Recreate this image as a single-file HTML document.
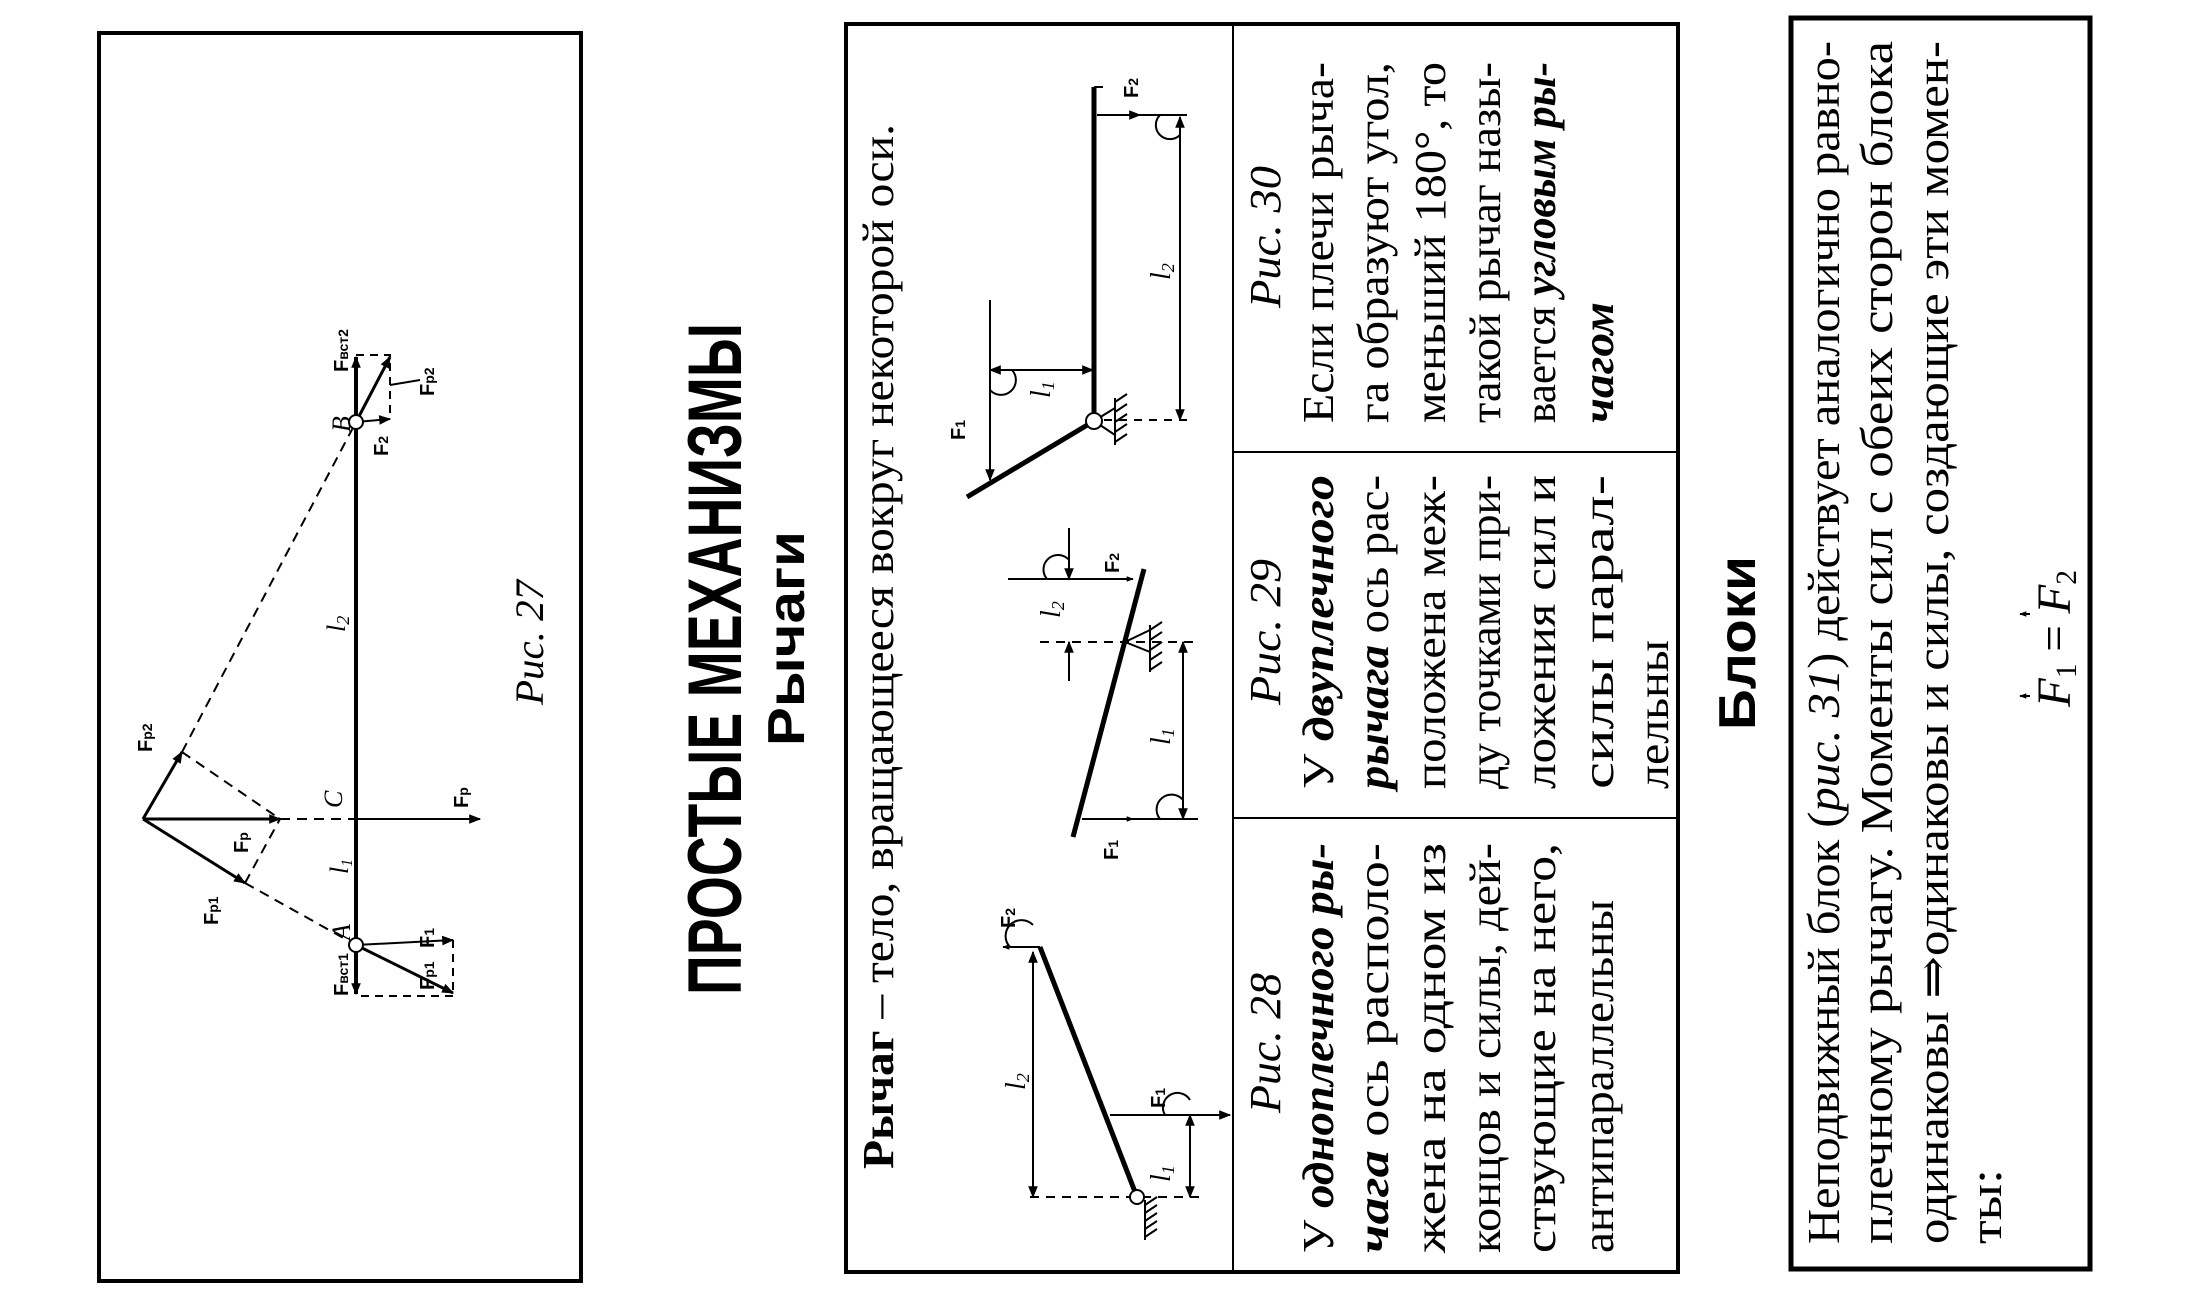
<!DOCTYPE html>
<html><head><meta charset="utf-8"><style>
html,body{margin:0;padding:0;background:#fff;}
svg{display:block;}
.s{font-family:"Liberation Serif","DejaVu Serif",serif;}
.a{font-family:"Liberation Sans","DejaVu Sans",sans-serif;}
</style></head><body>
<svg width="2200" height="1300" viewBox="0 0 2200 1300" xmlns="http://www.w3.org/2000/svg">
<defs>
<marker id="ar" viewBox="0 0 10 10" refX="9" refY="5" markerWidth="7" markerHeight="7" orient="auto-start-reverse" markerUnits="userSpaceOnUse"><path d="M0,1 L10,5 L0,9 z" fill="#000"/></marker>
<marker id="ar2" viewBox="0 0 10 10" refX="9" refY="5" markerWidth="14" markerHeight="12" orient="auto-start-reverse" markerUnits="userSpaceOnUse"><path d="M0,1 L10,5 L0,9 z" fill="#000"/></marker>
</defs>
<rect width="2200" height="1300" fill="#fff"/>

<!-- Box 1 (Fig 27) -->
<rect x="99" y="33" width="482" height="1248" fill="none" stroke="#000" stroke-width="4"/>
<g stroke="#000" fill="none" stroke-width="2">
 <line x1="356" y1="422" x2="356" y2="945" stroke-width="4"/>
 <line x1="356" y1="422" x2="356" y2="357" stroke-width="4" marker-end="url(#ar2)"/>
 <line x1="356" y1="945" x2="356" y2="994" stroke-width="4" marker-end="url(#ar2)"/>
 <line x1="143" y1="819" x2="280" y2="819" stroke-width="3" marker-end="url(#ar2)"/>
 <line x1="280" y1="819" x2="356" y2="819" stroke-dasharray="10,7"/>
 <line x1="356" y1="819" x2="480" y2="819" marker-end="url(#ar2)"/>
 <line x1="143" y1="819" x2="245" y2="883" stroke-width="3" marker-end="url(#ar2)"/>
 <line x1="143" y1="819" x2="182" y2="752" stroke-width="3" marker-end="url(#ar2)"/>
 <line x1="245" y1="883" x2="356" y2="945" stroke-dasharray="10,7"/>
 <line x1="182" y1="752" x2="356" y2="422" stroke-dasharray="10,7"/>
 <line x1="245" y1="883" x2="280" y2="819" stroke-dasharray="10,7"/>
 <line x1="182" y1="752" x2="280" y2="819" stroke-dasharray="10,7"/>
 <line x1="356" y1="945" x2="453" y2="940" marker-end="url(#ar2)"/>
 <line x1="356" y1="945" x2="453" y2="993" stroke-width="3" marker-end="url(#ar2)"/>
 <polyline points="453,940 453,996 356,996" stroke-dasharray="8,6"/>
 <line x1="356" y1="422" x2="390" y2="357" stroke-width="3" marker-end="url(#ar2)"/>
 <line x1="356" y1="422" x2="390" y2="419" marker-end="url(#ar2)"/>
 <polyline points="356,355 390,355 390,419" stroke-dasharray="8,6"/>
 <line x1="390" y1="385" x2="420" y2="380"/>
</g>
<circle cx="356" cy="945" r="7" fill="#fff" stroke="#000" stroke-width="2"/>
<circle cx="356" cy="422" r="7" fill="#fff" stroke="#000" stroke-width="2"/>
<g class="s" font-size="26" font-style="italic">
 <text x="350" y="940" transform="rotate(-90 350 940)">A</text>
 <text x="350" y="432" transform="rotate(-90 350 432)">B</text>
 <text x="342" y="808" transform="rotate(-90 342 808)">C</text>
 <text x="348" y="874" transform="rotate(-90 348 874)">l<tspan font-size="16" dy="4">1</tspan></text>
 <text x="345" y="632" transform="rotate(-90 345 632)">l<tspan font-size="18" dy="4">2</tspan></text>
</g>
<g class="a" font-size="20" font-weight="bold">
 <text x="152" y="752" transform="rotate(-90 152 752)">F<tspan font-size="14">p2</tspan></text>
 <text x="248" y="853" transform="rotate(-90 248 853)">F<tspan font-size="14">p</tspan></text>
 <text x="218" y="925" transform="rotate(-90 218 925)">F<tspan font-size="14">p1</tspan></text>
 <text x="348" y="996" transform="rotate(-90 348 996)">F<tspan font-size="14">вст1</tspan></text>
 <text x="434" y="948" transform="rotate(-90 434 948)">F<tspan font-size="14">1</tspan></text>
 <text x="434" y="990" transform="rotate(-90 434 990)">F<tspan font-size="14">p1</tspan></text>
 <text x="468" y="808" transform="rotate(-90 468 808)">F<tspan font-size="14">p</tspan></text>
 <text x="348" y="372" transform="rotate(-90 348 372)">F<tspan font-size="14">вст2</tspan></text>
 <text x="434" y="396" transform="rotate(-90 434 396)">F<tspan font-size="14">p2</tspan></text>
 <text x="388" y="456" transform="rotate(-90 388 456)">F<tspan font-size="14">2</tspan></text>
</g>
<text class="s" x="543" y="705" font-size="40" font-style="italic" textLength="125" lengthAdjust="spacingAndGlyphs" transform="rotate(-90 543 705)">Рис. 27</text>

<!-- Titles -->
<text class="a" x="741" y="995" font-size="76" font-weight="bold" textLength="672" lengthAdjust="spacingAndGlyphs" transform="rotate(-90 741 995)">ПРОСТЫЕ МЕХАНИЗМЫ</text>
<text class="a" x="804" y="746" font-size="52" font-weight="bold" textLength="215" lengthAdjust="spacingAndGlyphs" transform="rotate(-90 804 746)">Рычаги</text>
<text class="a" x="1755" y="730" font-size="52" font-weight="bold" textLength="174" lengthAdjust="spacingAndGlyphs" transform="rotate(-90 1755 730)">Блоки</text>

<!-- Box 2 -->
<rect x="846" y="24" width="832" height="1248" fill="none" stroke="#000" stroke-width="4"/>
<line x1="1233" y1="24" x2="1233" y2="1272" stroke="#000" stroke-width="2"/>
<line x1="1233" y1="452" x2="1678" y2="452" stroke="#000" stroke-width="2"/>
<line x1="1233" y1="818" x2="1678" y2="818" stroke="#000" stroke-width="2"/>
<text class="s" x="893" y="1169" font-size="44" textLength="1045" lengthAdjust="spacingAndGlyphs" transform="rotate(-90 893 1169)"><tspan font-weight="bold">Рычаг</tspan> – тело, вращающееся вокруг некоторой оси.</text>

<!-- Fig 28 -->
<g stroke="#000" fill="none" stroke-width="2">
 <line x1="1040" y1="947" x2="1137" y2="1197" stroke-width="5"/>
 <line x1="1040" y1="947" x2="1003" y2="947" marker-end="url(#ar)"/>
 <line x1="1033" y1="952" x2="1033" y2="1197" marker-start="url(#ar2)" marker-end="url(#ar2)"/>
 <line x1="1030" y1="1197" x2="1200" y2="1197" stroke-dasharray="9,7"/>
 <line x1="1110" y1="1115" x2="1230" y2="1115" marker-end="url(#ar2)"/>
 <line x1="1190" y1="1115" x2="1190" y2="1197" marker-start="url(#ar2)" marker-end="url(#ar2)"/>
 <path d="M1010,947 A14,14 0 0 1 1033,925"/>
 <path d="M1165,1115 A14,14 0 0 1 1190,1100"/>
 <line x1="1145" y1="1200" x2="1145" y2="1240"/>
 <path d="M1145,1205 l12,-8 M1145,1213 l12,-8 M1145,1221 l12,-8 M1145,1229 l12,-8 M1145,1237 l12,-8"/>
</g>
<circle cx="1137" cy="1197" r="7" fill="#fff" stroke="#000" stroke-width="2"/>
<g class="a" font-size="20" font-weight="bold">
 <text x="1015" y="928" transform="rotate(-90 1015 928)">F<tspan font-size="14">2</tspan></text>
 <text x="1165" y="1108" transform="rotate(-90 1165 1108)">F<tspan font-size="14">1</tspan></text>
 <text x="1119" y="573" transform="rotate(-90 1119 573)">F<tspan font-size="14">2</tspan></text>
 <text x="1118" y="860" transform="rotate(-90 1118 860)">F<tspan font-size="14">1</tspan></text>
 <text x="965" y="440" transform="rotate(-90 965 440)">F<tspan font-size="14">1</tspan></text>
 <text x="1138" y="98" transform="rotate(-90 1138 98)">F<tspan font-size="14">2</tspan></text>
</g>
<g class="s" font-size="28" font-style="italic">
 <text x="1025" y="1090" transform="rotate(-90 1025 1090)">l<tspan font-size="18" dy="4">2</tspan></text>
 <text x="1170" y="1182" transform="rotate(-90 1170 1182)">l<tspan font-size="18" dy="4">1</tspan></text>
 <text x="1060" y="618" transform="rotate(-90 1060 618)">l<tspan font-size="18" dy="4">2</tspan></text>
 <text x="1170" y="745" transform="rotate(-90 1170 745)">l<tspan font-size="18" dy="4">1</tspan></text>
 <text x="1050" y="398" transform="rotate(-90 1050 398)">l<tspan font-size="18" dy="4">1</tspan></text>
 <text x="1170" y="280" transform="rotate(-90 1170 280)">l<tspan font-size="18" dy="4">2</tspan></text>
</g>

<!-- Fig 29 -->
<g stroke="#000" fill="none" stroke-width="2">
 <line x1="1073" y1="837" x2="1144" y2="569" stroke-width="5"/>
 <line x1="1008" y1="579" x2="1133" y2="579" marker-end="url(#ar)"/>
 <line x1="1069" y1="528" x2="1069" y2="579" marker-end="url(#ar2)"/>
 <line x1="1069" y1="681" x2="1069" y2="642" marker-end="url(#ar2)"/>
 <line x1="1040" y1="642" x2="1193" y2="642" stroke-dasharray="9,7"/>
 <line x1="1183" y1="642" x2="1183" y2="819" marker-start="url(#ar2)" marker-end="url(#ar2)"/>
 <line x1="1082" y1="819" x2="1133" y2="819" marker-end="url(#ar)"/>
 <line x1="1133" y1="819" x2="1198" y2="819"/>
 <path d="M1160,819 A14,14 0 0 1 1183,800"/>
 <path d="M1047,579 A14,14 0 0 1 1069,560"/>
 <path d="M1125,642 L1150,630 M1125,642 L1150,652"/>
 <line x1="1150" y1="625" x2="1150" y2="672"/>
 <path d="M1150,630 l12,-8 M1150,640 l12,-8 M1150,650 l12,-8 M1150,660 l12,-8 M1150,670 l12,-8"/>
</g>

<!-- Fig 30 -->
<g stroke="#000" fill="none" stroke-width="2">
 <line x1="1094" y1="87" x2="1094" y2="420" stroke-width="5"/>
 <line x1="1094" y1="421" x2="967" y2="497" stroke-width="5"/>
 <line x1="1094" y1="87" x2="1103" y2="87"/>
 <line x1="990" y1="300" x2="990" y2="480" marker-end="url(#ar2)"/>
 <line x1="990" y1="370" x2="1093" y2="370" marker-start="url(#ar2)" marker-end="url(#ar2)"/>
 <line x1="1097" y1="115" x2="1140" y2="115" marker-end="url(#ar2)"/>
 <line x1="1140" y1="115" x2="1187" y2="115"/>
 <line x1="1180" y1="117" x2="1180" y2="420" marker-start="url(#ar2)" marker-end="url(#ar2)"/>
 <line x1="1104" y1="420" x2="1190" y2="420" stroke-dasharray="8,7"/>
 <path d="M990,390 A14,14 0 0 0 1012,370"/>
 <path d="M1160,115 A14,14 0 0 0 1180,135"/>
 <path d="M1094,421 L1115,408 M1094,421 L1115,435"/>
 <line x1="1115" y1="398" x2="1115" y2="445"/>
 <path d="M1115,402 l12,-8 M1115,412 l12,-8 M1115,422 l12,-8 M1115,432 l12,-8 M1115,442 l12,-8"/>
</g>
<circle cx="1094" cy="421" r="8" fill="#fff" stroke="#000" stroke-width="2"/>

<!-- Box 2 text columns -->
<g class="s" font-size="44" font-style="italic">
 <text x="1280" y="1113" textLength="140" lengthAdjust="spacingAndGlyphs" transform="rotate(-90 1280 1113)">Рис. 28</text>
 <text x="1280" y="705" textLength="146" lengthAdjust="spacingAndGlyphs" transform="rotate(-90 1280 705)">Рис. 29</text>
 <text x="1280" y="308" textLength="142" lengthAdjust="spacingAndGlyphs" transform="rotate(-90 1280 308)">Рис. 30</text>
</g>
<g class="s" font-size="44">
 <text x="1333" y="1253" textLength="410" lengthAdjust="spacingAndGlyphs" transform="rotate(-90 1333 1253)">У <tspan font-weight="bold" font-style="italic">одноплечного ры-</tspan></text>
 <text x="1388" y="1253" textLength="410" lengthAdjust="spacingAndGlyphs" transform="rotate(-90 1388 1253)"><tspan font-weight="bold" font-style="italic">чага</tspan> ось располо-</text>
 <text x="1445" y="1253" textLength="410" lengthAdjust="spacingAndGlyphs" transform="rotate(-90 1445 1253)">жена на одном из</text>
 <text x="1500" y="1253" textLength="410" lengthAdjust="spacingAndGlyphs" transform="rotate(-90 1500 1253)">концов и силы, дей-</text>
 <text x="1555" y="1253" textLength="410" lengthAdjust="spacingAndGlyphs" transform="rotate(-90 1555 1253)">ствующие на него,</text>
 <text x="1613" y="1253" textLength="353" lengthAdjust="spacingAndGlyphs" transform="rotate(-90 1613 1253)">антипараллельны</text>

 <text x="1333" y="789" textLength="314" lengthAdjust="spacingAndGlyphs" transform="rotate(-90 1333 789)">У <tspan font-weight="bold" font-style="italic">двуплечного</tspan></text>
 <text x="1388" y="789" textLength="314" lengthAdjust="spacingAndGlyphs" transform="rotate(-90 1388 789)"><tspan font-weight="bold" font-style="italic">рычага</tspan> ось рас-</text>
 <text x="1445" y="789" textLength="314" lengthAdjust="spacingAndGlyphs" transform="rotate(-90 1445 789)">положена меж-</text>
 <text x="1500" y="789" textLength="314" lengthAdjust="spacingAndGlyphs" transform="rotate(-90 1500 789)">ду точками при-</text>
 <text x="1555" y="789" textLength="314" lengthAdjust="spacingAndGlyphs" transform="rotate(-90 1555 789)">ложения сил и</text>
 <text x="1613" y="789" textLength="314" lengthAdjust="spacingAndGlyphs" transform="rotate(-90 1613 789)">силы      парал-</text>
 <text x="1668" y="789" textLength="149" lengthAdjust="spacingAndGlyphs" transform="rotate(-90 1668 789)">лельны</text>

 <text x="1333" y="423" textLength="361" lengthAdjust="spacingAndGlyphs" transform="rotate(-90 1333 423)">Если плечи рыча-</text>
 <text x="1388" y="423" textLength="361" lengthAdjust="spacingAndGlyphs" transform="rotate(-90 1388 423)">га образуют угол,</text>
 <text x="1445" y="423" textLength="361" lengthAdjust="spacingAndGlyphs" transform="rotate(-90 1445 423)">меньший 180°, то</text>
 <text x="1500" y="423" textLength="361" lengthAdjust="spacingAndGlyphs" transform="rotate(-90 1500 423)">такой рычаг назы-</text>
 <text x="1555" y="423" textLength="361" lengthAdjust="spacingAndGlyphs" transform="rotate(-90 1555 423)">вается <tspan font-weight="bold" font-style="italic">угловым ры-</tspan></text>
 <text x="1613" y="423" textLength="121" lengthAdjust="spacingAndGlyphs" font-weight="bold" font-style="italic" transform="rotate(-90 1613 423)">чагом</text>
</g>

<!-- Box 3 -->
<rect x="1791" y="18" width="299" height="1251" fill="none" stroke="#000" stroke-width="5"/>
<g class="s" font-size="46">
 <text x="1839" y="1244" textLength="1203" lengthAdjust="spacingAndGlyphs" transform="rotate(-90 1839 1244)">Неподвижный блок (<tspan font-style="italic">рис. 31</tspan>) действует аналогично равно-</text>
 <text x="1892" y="1244" textLength="1203" lengthAdjust="spacingAndGlyphs" transform="rotate(-90 1892 1244)">плечному рычагу. Моменты сил с обеих сторон блока</text>
 <text x="1948" y="1244" textLength="1203" lengthAdjust="spacingAndGlyphs" transform="rotate(-90 1948 1244)">одинаковы ⇒одинаковы и силы, создающие эти момен-</text>
 <text x="2001" y="1244" textLength="75" lengthAdjust="spacingAndGlyphs" transform="rotate(-90 2001 1244)">ты:</text>
 <text x="2070" y="707" font-style="italic" font-size="48" textLength="137" lengthAdjust="spacingAndGlyphs" transform="rotate(-90 2070 707)">F<tspan font-size="30" font-style="normal" dy="6">1</tspan><tspan dy="-6" font-style="normal"> = </tspan>F<tspan font-size="30" font-style="normal" dy="6">2</tspan></text>
</g>
<g stroke="#000" stroke-width="2" fill="none">
 <line x1="2030" y1="696" x2="2020" y2="696" marker-end="url(#ar)"/>
 <line x1="2030" y1="614" x2="2020" y2="614" marker-end="url(#ar)"/>
</g>
</svg>
</body></html>
